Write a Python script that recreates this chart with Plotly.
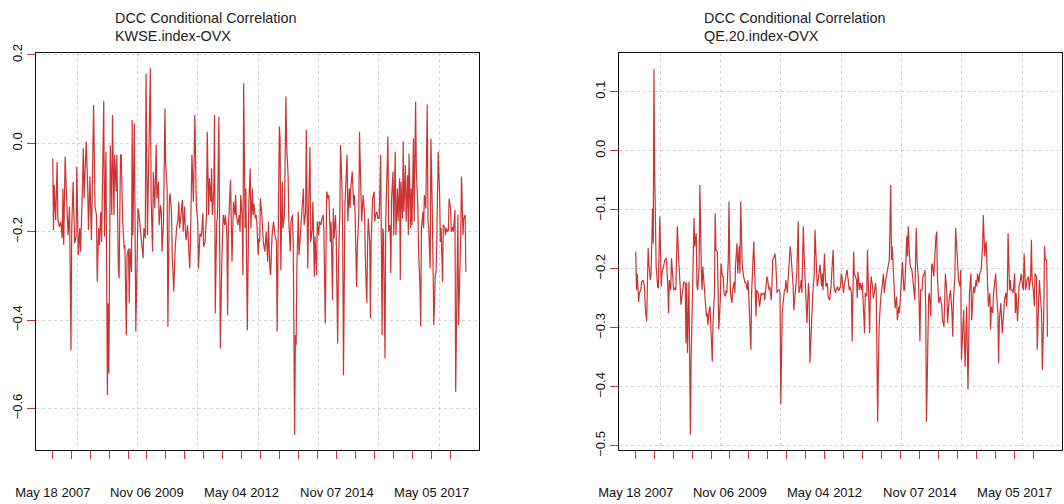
import pandas as pd
import plotly.graph_objects as go

# ---------------- data (weeks since 2007-05-18, conditional correlation) ----------------
START_DATE = "2007-05-18"

KWSE_WEEK = [0, 1, 2, 4, 6, 7, 9, 11, 13, 14, 15, 17, 19, 21, 23, 25, 26, 28, 30, 32, 33, 35, 37, 38, 40, 42, 43, 44, 46, 48,
             49, 51, 53, 54, 56, 58, 60, 61, 63, 64, 66, 67, 70, 71, 73, 75, 76, 77, 78, 79, 81, 82, 84, 85, 87, 88, 90, 91, 93, 94,
             96, 98, 99, 101, 102, 104, 105, 106, 108, 109, 110, 112, 114, 115, 117, 118, 120, 122, 124, 125, 127, 128, 130, 131, 133, 134, 135, 137, 138, 140,
             142, 143, 145, 146, 148, 149, 150, 152, 154, 155, 157, 158, 160, 161, 163, 164, 166, 167, 168, 170, 172, 173, 174, 176, 178, 179, 181, 182, 183, 185,
             187, 188, 189, 191, 193, 194, 195, 197, 199, 200, 202, 204, 206, 207, 209, 211, 212, 214, 215, 217, 218, 219, 221, 222, 223, 225, 226, 228, 229, 230,
             232, 233, 234, 236, 237, 239, 240, 241, 243, 244, 246, 247, 248, 250, 251, 252, 254, 256, 257, 258, 260, 261, 262, 264, 265, 267, 268, 269, 271, 272,
             274, 275, 276, 278, 279, 280, 282, 283,
             284, 285, 287, 289, 291, 293, 295, 296, 298, 299, 301, 303, 305, 307, 308, 309, 311, 312, 313, 315, 316, 318, 320, 321, 323, 324, 326, 327, 329, 330,
             332, 333, 334, 335, 337, 338, 340, 341, 342, 344, 345, 347, 348, 350, 351, 353, 354, 356, 357, 359, 360, 362, 363, 365, 366, 368, 369, 371, 372, 374,
             375, 376, 378, 379, 381, 382, 384, 385, 386, 388, 389, 391, 392, 394, 395, 397, 398, 399, 401, 402, 404, 405, 407, 408, 409, 411, 413, 414, 415, 417,
             418, 420, 421, 423, 424, 426, 428, 429, 431, 432, 433, 435, 436, 437, 439, 441, 442, 443, 445, 446, 448, 449, 450, 452, 453, 454, 456, 457, 459, 460,
             461, 463, 464, 465, 467, 468, 470, 471, 473, 474, 476, 477, 478, 480, 481, 482, 484, 485, 487, 488, 489, 491, 492, 493, 495, 496, 498, 499, 501, 502,
             504, 505, 506, 508, 509, 510, 512, 514, 515, 516, 518, 519, 521, 522, 523, 525, 526, 527, 529, 531, 532, 533, 535, 536, 538, 539, 540, 542, 543, 544,
             546, 547, 549, 550, 552, 553, 555, 556, 557, 559, 560, 561, 563, 564, 566, 567]
KWSE_CORR = [-0.034, -0.196, -0.094, -0.174, -0.042, -0.170, -0.189, -0.177, -0.215, -0.102, -0.230, -0.030, -0.125, -0.208, -0.143, -0.468, -0.192, -0.087, -0.226, -0.211,
             -0.053, -0.253, -0.192, -0.245, -0.147, -0.011, -0.125, -0.068, 0.005, -0.102, -0.196, -0.075, -0.219, -0.132, 0.087, -0.143, -0.162, -0.313, -0.192, -0.230,
             -0.155, -0.223, 0.096, -0.211, -0.019, -0.570, -0.362, -0.521, -0.192, -0.004, -0.162, 0.064, -0.162, -0.026, -0.109, -0.026, -0.283, -0.306, -0.026, -0.026,
             -0.177, -0.238, -0.230, -0.434, -0.253, -0.238, -0.362, -0.238, -0.291, 0.053, -0.208, 0.045, -0.426, -0.313, -0.147, -0.155, -0.192, -0.223, -0.260, -0.192,
             -0.215, 0.158, -0.208, -0.102, 0.049, 0.170, -0.125, -0.245, -0.064, -0.147, -0.004, -0.125, -0.087, -0.185, -0.140, -0.155, -0.245, -0.177, 0.079, -0.049,
             -0.102, -0.415, -0.132, -0.113, -0.155, -0.253, -0.336, -0.245, -0.238, -0.192, -0.170, -0.132, -0.192, -0.162, -0.128, -0.200, -0.143, -0.200, -0.219, -0.185,
             -0.253, -0.283, -0.223, -0.026, -0.132, -0.049, 0.064, -0.140, -0.177, -0.283, -0.204, -0.211, -0.158, -0.234, -0.223, -0.162, 0.026, -0.162, -0.079, -0.132,
             -0.057, -0.162, -0.109, 0.064, -0.385, -0.177, -0.170, 0.060, -0.253, -0.464, -0.268, -0.230, -0.162, -0.185, -0.162, -0.208, -0.389, -0.192, -0.109, -0.083,
             -0.268, -0.192, -0.132, -0.162, -0.117, -0.162, -0.185, -0.162, -0.200, -0.117, -0.170, -0.298, 0.136, -0.192, -0.102, -0.423, -0.177, -0.140, -0.057, -0.192,
             -0.102, -0.162, -0.136, -0.170, -0.162, -0.177, -0.253, -0.215,
             -0.223, -0.125, -0.162, -0.223, -0.245, -0.200, -0.268, -0.177, -0.283, -0.298, -0.208, -0.177, -0.208, -0.223, -0.426, -0.192, 0.038, 0.011, -0.287, -0.087,
             -0.192, -0.162, 0.106, -0.004, -0.072, -0.177, -0.245, -0.177, -0.162, -0.223, -0.660, -0.434, -0.457, -0.283, -0.155, -0.253, -0.208, -0.192, -0.155, -0.102,
             -0.185, -0.158, 0.030, -0.283, -0.162, -0.008, -0.223, -0.196, -0.132, -0.302, -0.211, -0.298, -0.177, -0.208, -0.177, -0.185, -0.174, -0.162, -0.192, -0.408,
             -0.245, -0.109, -0.125, -0.117, -0.223, -0.177, -0.355, -0.147, -0.215, -0.162, -0.208, -0.453, -0.283, -0.155, -0.004, -0.102, -0.230, -0.525, -0.140, -0.102,
             -0.026, -0.177, -0.102, -0.147, -0.102, -0.064, -0.140, -0.117, -0.162, -0.325, -0.238, -0.162, 0.026, -0.117, -0.177, -0.117, -0.162, -0.260, -0.362, -0.238,
             -0.170, -0.223, -0.396, -0.223, -0.125, -0.109, -0.177, -0.162, -0.155, -0.170, -0.170, -0.102, -0.026, -0.434, -0.192, -0.208, -0.487, -0.177, -0.072, 0.015,
             -0.200, -0.185, -0.294, -0.125, -0.064, -0.208, -0.019, -0.208, -0.102, -0.177, -0.079, -0.309, -0.087, -0.170, 0.004, -0.155, -0.049, -0.177, -0.072, -0.208,
             -0.023, -0.192, -0.102, -0.185, 0.011, -0.177, 0.094, -0.064, -0.140, -0.238, -0.325, -0.415, -0.192, -0.155, -0.192, -0.117, -0.147, 0.088, -0.177, -0.192,
             -0.283, 0.011, -0.162, -0.253, -0.411, -0.298, -0.291, -0.230, -0.019, -0.117, -0.223, -0.192, -0.313, -0.185, -0.189, -0.208, -0.192, -0.200, -0.196, -0.125,
             -0.147, -0.200, -0.189, -0.200, -0.151, -0.562, -0.328, -0.162, -0.411, -0.283, -0.200, -0.075, -0.208, -0.170, -0.162, -0.291]

QE_WEEK = [0, 1, 2, 4, 5, 7, 8, 10, 12, 13, 15, 17, 18, 20, 21, 22, 23, 24, 25, 26, 27, 28, 30, 31, 33, 34, 35, 36, 38, 39,
           40, 42, 44, 45, 46, 48, 49, 51, 52, 53, 55, 57, 58, 59, 61, 62, 63, 65, 66, 68, 69, 70, 71, 73, 74, 75, 76, 78, 79, 80,
           81, 83, 84, 85, 87, 88, 90, 91, 92, 94, 95, 97, 98, 99, 101, 102, 103, 105, 106, 108, 109, 110, 112, 113, 114, 116, 117, 119, 120, 121,
           123, 124, 125, 127, 128, 129, 130, 132, 133, 135, 136, 137, 139, 140, 142, 143, 144, 146, 147, 148, 150, 151, 153, 154, 155, 157, 158, 159, 161, 162,
           164, 165, 166, 168, 169, 170, 172, 173, 175, 176, 177, 179, 180, 181, 183, 184, 186, 187, 188, 190, 191, 192, 194, 195, 197, 198, 199, 201, 202, 204,
           205, 206, 208, 209, 210, 212, 213, 215, 216, 217, 219, 220, 221, 223, 224, 226, 227, 228, 230, 231, 232, 234, 235, 237, 238, 239, 241, 242, 243, 245,
           246, 248, 249, 250, 252, 253, 255, 256, 257, 259, 260, 261, 263, 264, 266, 267, 268, 270, 271, 272, 274, 275, 277, 278, 279,
           281, 282, 283, 285, 286, 288, 289, 290, 292, 293, 294, 296, 297, 299, 300, 301, 303, 304, 305, 307, 308, 310, 311, 312, 314, 315, 317, 318, 319, 321,
           322, 323, 325, 326, 328, 329, 330, 332, 333, 334, 336, 337, 339, 340, 341, 343, 344, 345, 347, 348, 350, 351, 352, 354, 355, 356, 358, 359, 361, 362,
           363, 365, 366, 368, 369, 370, 372, 373, 374, 376, 377, 379, 380, 381, 383, 384, 385, 386, 388, 389, 390, 391, 393, 394, 396, 397, 398, 399, 401, 402,
           403, 405, 406, 407, 409, 410, 412, 413, 414, 416, 417, 418, 420, 421, 423, 424, 425, 427, 428, 430, 431, 432, 434, 435, 436, 438, 439, 441, 442, 443,
           445, 446, 447, 449, 450, 452, 453, 454, 456, 457, 458, 460, 461, 463, 464, 465, 467, 468, 469, 471, 472, 474, 475, 476, 477, 479, 480, 481, 483, 484,
           486, 487, 488, 490, 491, 492, 494, 495, 497, 498, 499, 501, 502, 503, 505, 506, 508, 509, 510, 511, 513, 514, 515, 517, 518, 520, 521, 522, 524, 525,
           526, 528, 529, 531, 532, 533, 535, 536, 537, 539, 540, 542, 543, 544, 546, 547, 548, 550, 551, 553, 554, 555, 557, 558, 560, 561, 562, 564, 565]
QE_CORR = [-0.171, -0.236, -0.208, -0.256, -0.241, -0.236, -0.222, -0.219, -0.230, -0.264, -0.289, -0.165, -0.191, -0.219, -0.208, -0.154, -0.098, -0.157, 0.139, -0.038,
           -0.162, -0.196, -0.230, -0.233, -0.112, -0.208, -0.230, -0.208, -0.199, -0.191, -0.185, -0.182, -0.230, -0.275, -0.219, -0.236, -0.182, -0.219, -0.236, -0.233,
           -0.236, -0.128, -0.179, -0.185, -0.230, -0.261, -0.250, -0.222, -0.222, -0.224, -0.326, -0.224, -0.343, -0.222, -0.332, -0.481, -0.354, -0.230, -0.162, -0.114,
           -0.162, -0.140, -0.230, -0.236, -0.196, -0.058, -0.199, -0.236, -0.196, -0.230, -0.264, -0.281, -0.275, -0.295, -0.267, -0.264, -0.298, -0.357, -0.292, -0.241,
           -0.106, -0.168, -0.171, -0.241, -0.303, -0.253, -0.191, -0.213, -0.213, -0.241, -0.247, -0.236, -0.241, -0.185, -0.086, -0.191, -0.241, -0.258, -0.236, -0.222,
           -0.241, -0.191, -0.157, -0.208, -0.162, -0.208, -0.086, -0.191, -0.208, -0.213, -0.224, -0.222, -0.236, -0.219, -0.241, -0.292, -0.337, -0.241, -0.168, -0.154,
           -0.236, -0.281, -0.236, -0.241, -0.253, -0.264, -0.241, -0.244, -0.241, -0.241, -0.253, -0.219, -0.213, -0.219, -0.236, -0.230, -0.253, -0.224, -0.185, -0.179,
           -0.174, -0.185, -0.241, -0.236, -0.236, -0.241, -0.430, -0.275, -0.258, -0.236, -0.236, -0.219, -0.241, -0.219, -0.208, -0.162, -0.174, -0.208, -0.230, -0.270,
           -0.241, -0.213, -0.208, -0.120, -0.241, -0.230, -0.219, -0.241, -0.128, -0.174, -0.208, -0.253, -0.292, -0.224, -0.241, -0.360, -0.298, -0.264, -0.241, -0.208,
           -0.134, -0.196, -0.230, -0.224, -0.208, -0.193, -0.230, -0.208, -0.236, -0.174, -0.208, -0.230, -0.224, -0.247, -0.253, -0.230, -0.230, -0.185, -0.168, -0.230,
           -0.241, -0.236, -0.230, -0.236, -0.236,
           -0.230, -0.208, -0.213, -0.241, -0.230, -0.219, -0.208, -0.202, -0.219, -0.236, -0.230, -0.241, -0.323, -0.171, -0.208, -0.213, -0.219, -0.250, -0.205, -0.236,
           -0.224, -0.236, -0.224, -0.253, -0.309, -0.241, -0.247, -0.168, -0.213, -0.309, -0.241, -0.213, -0.230, -0.250, -0.236, -0.224, -0.236, -0.459, -0.366, -0.298,
           -0.253, -0.236, -0.219, -0.208, -0.241, -0.219, -0.213, -0.202, -0.196, -0.185, -0.058, -0.185, -0.162, -0.224, -0.253, -0.267, -0.247, -0.287, -0.264, -0.275,
           -0.253, -0.219, -0.188, -0.236, -0.236, -0.208, -0.145, -0.179, -0.128, -0.185, -0.196, -0.202, -0.219, -0.236, -0.253, -0.185, -0.131, -0.185, -0.219, -0.264,
           -0.323, -0.236, -0.236, -0.213, -0.208, -0.202, -0.275, -0.459, -0.298, -0.247, -0.241, -0.281, -0.196, -0.191, -0.213, -0.185, -0.145, -0.137, -0.213, -0.258,
           -0.247, -0.247, -0.264, -0.287, -0.298, -0.241, -0.208, -0.241, -0.292, -0.253, -0.241, -0.236, -0.275, -0.315, -0.253, -0.213, -0.131, -0.174, -0.213, -0.219,
           -0.230, -0.202, -0.354, -0.298, -0.270, -0.366, -0.298, -0.264, -0.405, -0.287, -0.241, -0.208, -0.287, -0.241, -0.230, -0.241, -0.219, -0.230, -0.208, -0.224,
           -0.208, -0.202, -0.185, -0.162, -0.109, -0.179, -0.162, -0.154, -0.230, -0.264, -0.241, -0.303, -0.264, -0.275, -0.241, -0.230, -0.208, -0.241, -0.275, -0.360,
           -0.287, -0.258, -0.275, -0.309, -0.275, -0.253, -0.241, -0.264, -0.236, -0.140, -0.236, -0.219, -0.236, -0.236, -0.241, -0.208, -0.275, -0.241, -0.289, -0.241,
           -0.230, -0.219, -0.208, -0.230, -0.236, -0.174, -0.236, -0.230, -0.219, -0.213, -0.236, -0.213, -0.151, -0.219, -0.241, -0.264, -0.208, -0.213, -0.337, -0.253,
           -0.219, -0.241, -0.275, -0.371, -0.275, -0.162, -0.185, -0.185, -0.315]

# x-axis ticks (weeks since start) and the labels shown on every fifth tick
TICK_WEEKS = [0, 26, 52, 78, 104, 129, 155, 181, 207, 233, 259, 285, 311, 337, 363, 390, 416, 442, 468, 494, 520, 546]
TICK_LABELS = ["May 18 2007", "Nov 06 2009", "May 04 2012", "Nov 07 2014", "May 05 2017"]

PANELS = [
    {"title": "KWSE.index-OVX", "weeks": KWSE_WEEK, "corr": KWSE_CORR,
     "yticks": [-0.6, -0.4, -0.2, 0.0, 0.2], "yrange": [-0.694, 0.2045]},
    {"title": "QE.20.index-OVX", "weeks": QE_WEEK, "corr": QE_CORR,
     "yticks": [-0.5, -0.4, -0.3, -0.2, -0.1, 0.0, 0.1], "yrange": [-0.507, 0.1656]},
]

# ---------------- figure ----------------
start = pd.Timestamp(START_DATE)


def wk(w):
    return start + pd.Timedelta(weeks=w)


W, H = 1064, 504
ML, MR, MT, MB = 36, 2, 53, 54
PW = W - ML - MR
LINE_COL = "#CD3333"
FONT = "Liberation Sans, Arial, sans-serif"

domains = [[0.0, 443 / PW], [583 / PW, 1.0]]
title_x_px = [113, 701.7]

tickvals = [wk(w) for w in TICK_WEEKS]
ticktext = []
li = 0
for i in range(len(TICK_WEEKS)):
    if i % 5 == 0 and li < len(TICK_LABELS):
        ticktext.append(TICK_LABELS[li])
        li += 1
    else:
        ticktext.append("")

grid_weeks = [33.7 + 82.8 * k for k in range(7)]
xrange_ = [wk(-23), wk(585)]

fig = go.Figure()
annotations = []
for i, p in enumerate(PANELS):
    xa = "x" if i == 0 else "x2"
    ya = "y" if i == 0 else "y2"
    fig.add_trace(go.Scatter(
        x=[wk(w) for w in p["weeks"]], y=p["corr"], mode="lines",
        line=dict(color=LINE_COL, width=1.2), xaxis=xa, yaxis=ya,
        showlegend=False, hoverinfo="x+y"))
    xkey = "xaxis" if i == 0 else "xaxis2"
    ykey = "yaxis" if i == 0 else "yaxis2"
    fig.layout[xkey] = dict(
        domain=domains[i], anchor=ya, type="date", range=xrange_,
        tickmode="array", tickvals=tickvals, ticktext=ticktext,
        ticks="outside", ticklen=8, tickwidth=1, tickcolor=LINE_COL,
        tickfont=dict(family=FONT, size=13, color="#111111"),
        ticklabelstandoff=22,
        showgrid=False, zeroline=False,
        showline=True, mirror=True, linecolor="#111111", linewidth=1,
        minor=dict(tickmode="array", tickvals=[wk(g) for g in grid_weeks],
                   showgrid=True, gridcolor="#D3D3D3", griddash="dot", gridwidth=1, ticks=""),
    )
    fig.layout[ykey] = dict(
        domain=[0, 1], anchor=xa, range=p["yrange"],
        tickmode="array", tickvals=p["yticks"], tickformat=".1f",
        tickangle=-90, ticks="outside", ticklen=8, tickwidth=1, tickcolor=LINE_COL,
        tickfont=dict(family=FONT, size=13, color="#111111"),
        showgrid=True, gridcolor="#D3D3D3", griddash="dot", gridwidth=1,
        zeroline=False, showline=True, mirror=True, linecolor="#111111", linewidth=1,
    )
    xp = (title_x_px[i] - ML) / PW
    for txt, ypx in (("DCC Conditional Correlation", 18), (p["title"], 36)):
        annotations.append(dict(
            text=txt, xref="paper", yref="paper", x=xp, y=1 + (MT - ypx) / (H - MT - MB),
            xanchor="left", yanchor="middle", showarrow=False,
            font=dict(family=FONT, size=14.4, color="#222222")))

fig.update_layout(
    width=W, height=H, margin=dict(l=ML, r=MR, t=MT, b=MB),
    paper_bgcolor="white", plot_bgcolor="white",
    annotations=annotations, font=dict(family=FONT),
)

fig.write_html(
    "out.html",
    config={"displayModeBar": False},
    post_script="document.body.style.margin='0';document.body.style.overflow='hidden';",
)
